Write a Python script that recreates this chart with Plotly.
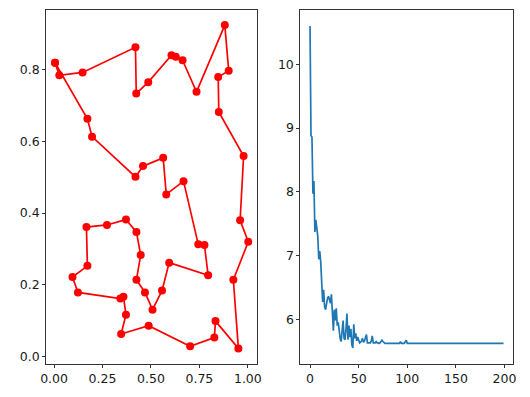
import plotly.graph_objects as go

# ---- Left: tour (city coordinates in visiting order, closed back to start)
tour_x = [0.005, 0.027, 0.147, 0.420, 0.424, 0.486, 0.606, 0.628, 0.663, 0.735,
          0.881, 0.901, 0.847, 0.850, 0.978, 0.960, 1.002, 0.925, 0.951, 0.833,
          0.827, 0.702, 0.488, 0.346, 0.371, 0.358, 0.342, 0.123, 0.095, 0.172,
          0.167, 0.273, 0.371, 0.425, 0.447, 0.425, 0.469, 0.508, 0.557, 0.594,
          0.795, 0.776, 0.744, 0.668, 0.579, 0.563, 0.459, 0.420, 0.196, 0.172,
          0.005]
tour_y = [0.819, 0.784, 0.792, 0.862, 0.733, 0.765, 0.840, 0.836, 0.826, 0.738,
          0.924, 0.797, 0.779, 0.682, 0.559, 0.380, 0.320, 0.214, 0.023, 0.099,
          0.053, 0.029, 0.086, 0.063, 0.117, 0.167, 0.162, 0.179, 0.222, 0.253,
          0.361, 0.367, 0.382, 0.347, 0.283, 0.214, 0.179, 0.131, 0.184, 0.262,
          0.227, 0.311, 0.313, 0.489, 0.452, 0.554, 0.531, 0.501, 0.613, 0.663,
          0.819]

# ---- Right: best distance per generation
best_dist = [
    10.60, 8.88, 8.86, 7.97, 8.17, 7.37, 7.56, 7.42, 7.30, 6.94,
    7.07, 6.90, 6.55, 6.27, 6.46, 6.20, 6.15, 6.28, 6.33, 6.36,
    6.30, 6.25, 6.39, 6.10, 5.82, 6.15, 5.98, 6.17, 5.90, 5.95,
    5.75, 5.70, 5.65, 5.80, 5.98, 5.70, 5.68, 5.85, 6.09, 5.68,
    5.90, 5.72, 5.85, 5.60, 5.55, 5.92, 5.70, 5.78, 5.66, 5.72,
    5.66, 5.63, 5.64, 5.66, 5.70, 5.64, 5.66, 5.72, 5.76, 5.63,
    5.63, 5.64, 5.63, 5.66, 5.74, 5.63, 5.63, 5.63, 5.65, 5.63,
    5.63, 5.62, 5.63, 5.66, 5.67, 5.65, 5.63, 5.62, 5.62, 5.62,
    5.62, 5.62, 5.62, 5.62, 5.62, 5.62, 5.62, 5.62, 5.62, 5.62,
    5.62, 5.62, 5.62, 5.65, 5.62, 5.62, 5.62, 5.62, 5.65, 5.67,
    5.62, 5.62, 5.62, 5.61, 5.62, 5.62, 5.62, 5.62, 5.62, 5.62,
    5.62, 5.62, 5.62, 5.62, 5.62, 5.62, 5.62, 5.62, 5.62, 5.62,
    5.62, 5.62, 5.62, 5.62, 5.62, 5.61, 5.62, 5.62, 5.62, 5.62,
    5.62, 5.62, 5.62, 5.62, 5.62, 5.62, 5.62, 5.62, 5.62, 5.62,
    5.62, 5.62, 5.62, 5.61, 5.62, 5.62, 5.62, 5.62, 5.62, 5.62,
    5.62, 5.62, 5.62, 5.62, 5.62, 5.62, 5.62, 5.62, 5.62, 5.62,
    5.62, 5.62, 5.62, 5.62, 5.62, 5.62, 5.62, 5.62, 5.62, 5.62,
    5.62, 5.62, 5.62, 5.62, 5.62, 5.62, 5.62, 5.62, 5.62, 5.62,
    5.62, 5.62, 5.62, 5.62, 5.62, 5.62, 5.62, 5.62, 5.62, 5.62,
    5.62, 5.62, 5.62, 5.62, 5.62, 5.62, 5.62, 5.62, 5.62, 5.62,
]
generations = list(range(len(best_dist)))

left_xticks = [0.0, 0.25, 0.5, 0.75, 1.0]
left_yticks = [0.0, 0.2, 0.4, 0.6, 0.8]
right_xticks = [0, 50, 100, 150, 200]
right_yticks = [6, 7, 8, 9, 10]

fig = go.Figure()
fig.add_trace(go.Scatter(x=tour_x, y=tour_y, mode="lines+markers",
                         line=dict(color="#ff0000", width=1.7),
                         marker=dict(color="#ff0000", size=8),
                         xaxis="x", yaxis="y", showlegend=False))
fig.add_trace(go.Scatter(x=generations, y=best_dist, mode="lines",
                         line=dict(color="#1f77b4", width=1.7),
                         xaxis="x2", yaxis="y2", showlegend=False))

axis_common = dict(showgrid=False, zeroline=False, showline=True, mirror=True,
                   linecolor="#333333", linewidth=1, ticks="outside", ticklen=3,
                   tickwidth=1, tickcolor="#333333",
                   tickfont=dict(family="DejaVu Sans", size=12.5, color="#1a1a1a"))

W, H = 530, 397
fig.update_layout(
    width=W, height=H, margin=dict(l=0, r=0, t=0, b=0),
    paper_bgcolor="white", plot_bgcolor="white",
    xaxis=dict(domain=[41 / W, 256 / W], range=[-0.0405, 1.048], anchor="y",
               tickvals=left_xticks, tickformat=".2f", **axis_common),
    yaxis=dict(domain=[1 - 364 / H, 1 - 10 / H], range=[-0.0205, 0.966], anchor="x",
               tickvals=left_yticks, tickformat=".1f", **axis_common),
    xaxis2=dict(domain=[300 / W, 517 / W], range=[-9.95, 208.95], anchor="y2",
                tickvals=right_xticks, **axis_common),
    yaxis2=dict(domain=[1 - 364 / H, 1 - 10 / H], range=[5.2975, 10.8525], anchor="x2",
                tickvals=right_yticks, **axis_common),
)

fig.write_html("out.html", config={"displayModeBar": False},
               post_script="document.body.style.margin='0';document.body.style.overflow='hidden';")
